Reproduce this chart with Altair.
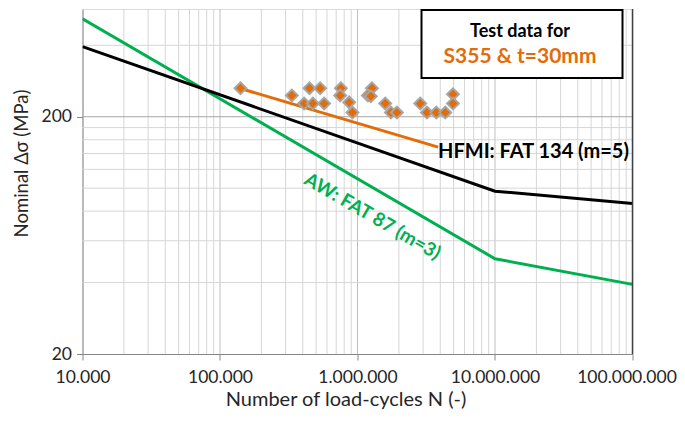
import altair as alt
import pandas as pd

# ---- data ----
hfmi_N = [1e4, 1e7, 1e8]
hfmi_S = [395, 97.1, 86.1]
aw_N = [1e4, 1e7, 1e8]
aw_S = [517, 50.4, 39.3]
fit_N = [141000, 3860000]
fit_S = [263, 149]
test_N = [141000, 333000, 409000, 447600, 535000, 473600, 572000, 757000, 748000,
          870000, 919500, 1273000, 1190000, 1250000, 1591000, 1750000, 1935000,
          2860000, 3200000, 3740000, 4350000, 4948000, 4948000]
test_S = [263.7, 245.8, 227.4, 263.7, 263.7, 227.4, 227.4, 263.7, 245.8,
          230.0, 208.4, 263.7, 245.8, 244.0, 227.4, 208.4, 208.4,
          227.4, 208.4, 208.4, 208.4, 248.8, 227.4]
x_ticks = [1e4, 1e5, 1e6, 1e7, 1e8]
x_labels = ["10.000", "100.000", "1.000.000", "10.000.000", "100.000.000"]
y_ticks = [20, 200]
x_minor = [2e4, 3e4, 4e4, 5e4, 6e4, 7e4, 8e4, 9e4,
           2e5, 3e5, 4e5, 5e5, 6e5, 7e5, 8e5, 9e5,
           2e6, 3e6, 4e6, 5e6, 6e6, 7e6, 8e6, 9e6,
           2e7, 3e7, 4e7, 5e7, 6e7, 7e7, 8e7, 9e7]
x_major_grid = [1e5, 1e6, 1e7]
y_minor = [40, 60, 80, 100, 120, 140, 160, 180, 400]
y_major_grid = [200]

FONT = "Lato"
ORANGE = "#E36C0A"
GREEN = "#00B050"

W, H = 550, 345
xscale = alt.Scale(type="log", domain=[1e4, 1e8], nice=False)
yscale = alt.Scale(type="log", domain=[20, 569], nice=False)

label_expr = ""
for v, l in zip(x_ticks, x_labels):
    label_expr += f"datum.value == {v} ? '{l}' : "
label_expr += "''"

xaxis = alt.Axis(values=x_ticks, labelExpr=label_expr, grid=False, tickSize=6,
                 tickColor="#868686", domainColor="#868686", labelFont=FONT,
                 labelFontSize=17.5, labelColor="#262626", labelPadding=8,
                 labelFlush=False, labelOverlap=False,
                 labelOffset={"condition": {"test": "datum.value == 100000000", "value": -6},
                              "value": 0},
                 title="Number of load-cycles N (-)", titleFont=FONT,
                 titleFontSize=20, titleFontWeight="normal", titleColor="#262626",
                 titleX=263, titleY=45, titleAlign="center", titleBaseline="middle")
yaxis = alt.Axis(values=y_ticks, format="d", grid=False, tickSize=6,
                 tickColor="#868686", domainColor="#868686", labelFont=FONT,
                 labelFontSize=17.5, labelColor="#262626", labelPadding=5,
                 title="Nominal Δσ (MPa)", titleFont=FONT, titleFontSize=18.5,
                 titleFontWeight="normal", titleColor="#262626",
                 titleAngle=270, titleX=-61, titleY=154, titleAlign="center",
                 titleBaseline="middle")

X = alt.X("N:Q", scale=xscale, axis=xaxis)
Y = alt.Y("S:Q", scale=yscale, axis=yaxis)

vgrid = alt.Chart(pd.DataFrame({"N": x_minor})).mark_rule(
    color="#D6D6D6", strokeWidth=1).encode(x=X)
vgrid2 = alt.Chart(pd.DataFrame({"N": x_major_grid})).mark_rule(
    color="#BFBFBF", strokeWidth=1).encode(x=X)
hgrid = alt.Chart(pd.DataFrame({"S": y_minor})).mark_rule(
    color="#D6D6D6", strokeWidth=1).encode(y=Y)
hgrid2 = alt.Chart(pd.DataFrame({"S": y_major_grid})).mark_rule(
    color="#A6A6A6", strokeWidth=1).encode(y=Y)
right_border = alt.Chart(pd.DataFrame({"N": [x_ticks[-1]]})).mark_rule(
    color="#404040", strokeWidth=1.5).encode(x=X)

box = alt.Chart(pd.DataFrame({"a": [0]})).mark_rect(
    fill="white", stroke="black", strokeWidth=2).encode(
    x=alt.value(339), x2=alt.value(540), y=alt.value(1), y2=alt.value(69))

hfmi = alt.Chart(pd.DataFrame({"N": hfmi_N, "S": hfmi_S})).mark_line(
    color="black", strokeWidth=3, clip=True).encode(x=X, y=Y)
aw = alt.Chart(pd.DataFrame({"N": aw_N, "S": aw_S})).mark_line(
    color=GREEN, strokeWidth=3, clip=True).encode(x=X, y=Y)
fit = alt.Chart(pd.DataFrame({"N": fit_N, "S": fit_S})).mark_line(
    color=ORANGE, strokeWidth=3).encode(x=X, y=Y)
pts = alt.Chart(pd.DataFrame({"N": test_N, "S": test_S})).mark_point(
    shape="diamond", filled=True, fill=ORANGE, stroke="#A6A6A6", strokeWidth=2,
    size=140, opacity=1).encode(x=X, y=Y)

def txt(s, x, y, color, size, angle=0, align="center"):
    return alt.Chart(pd.DataFrame({"t": [s]})).mark_text(
        font=FONT, fontSize=size, fontWeight="bold", color=color, angle=angle,
        align=align, baseline="middle").encode(
        text="t:N", x=alt.value(x), y=alt.value(y))

t1 = txt("Test data for", 437.5, 23, "black", 18)
t2 = txt("S355 & t=30mm", 437.5, 48, ORANGE, 21)
t3 = txt("HFMI: FAT 134 (m=5)", 355.5, 143, "black", 20, align="left")
t4 = txt("AW: FAT 87 (m=3)", 290, 207.5, GREEN, 19, angle=30)

chart = alt.layer(vgrid, vgrid2, hgrid, hgrid2, box, aw, hfmi, fit, pts,
                  right_border, t1, t2, t3, t4).properties(
    width=W, height=H,
    autosize=alt.AutoSizeParams(type="none"),
    padding={"left": 74.5, "top": 1, "right": 44, "bottom": 57},
).configure_view(stroke=None).configure(background="white")

chart.save("out.html", embed_options={"renderer": "svg", "actions": False})
